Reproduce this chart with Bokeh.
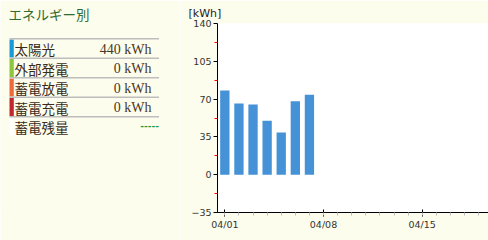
from bokeh.plotting import figure
from bokeh.layouts import row
from bokeh.models import Range1d, FixedTicker, ColumnDataSource
from bokeh.core.properties import value
from bokeh.embed import file_html
from bokeh.resources import INLINE

# ---- data ----
days = [1, 2, 3, 4, 5, 6, 7]
kwh = [78, 66, 65, 50, 39, 68, 74]
x_tick_days = [1, 8, 15]
x_tick_labels = ["04/01", "04/08", "04/15"]
y_ticks = [-35, 0, 35, 70, 105, 140]
y_minor = [-17.5, 17.5, 52.5, 87.5, 122.5]

panel_title = "エネルギー別"
cat_names = ["太陽光", "外部発電", "蓄電放電", "蓄電充電", "蓄電残量"]
cat_values = ["440 kWh", "0 kWh", "0 kWh", "0 kWh", "-----"]
cat_colors = ["#1b9ad8", "#8cc63e", "#ec6a3c", "#c1272d", "#ffffff"]

BG = "#fcfdec"
TXT = "#3a2a1a"
JP = "Noto Sans CJK JP"

FT, FB = 23, 212  # frame top / bottom in page pixels

# ---- left panel ----
lp = figure(width=180, height=240, x_range=Range1d(0, 180), y_range=Range1d(FB, FT),
            output_backend="svg", toolbar_location=None,
            min_border_left=0, min_border_right=0, min_border_top=FT, min_border_bottom=240 - FB,
            title=panel_title)
lp.title.text_font = JP
lp.title.text_font_size = "13.5px"
lp.title.text_font_style = "normal"
lp.title.text_color = "#2f6a2f"
lp.title.align = "left"
lp.title.offset = 8
lp.title.standoff = 0
lp.axis.visible = False
lp.grid.visible = False
lp.outline_line_color = None
lp.background_fill_color = BG
lp.border_fill_color = BG

top0 = 38.3
pitch = 19.5
n = len(cat_names)
tops = [top0 + i * pitch for i in range(n)]
mids = [t + pitch / 2 for t in tops]
lp.quad(left=[9] * n, right=[13.3] * n, top=[t + 0.8 for t in tops], bottom=[t + pitch - 0.8 for t in tops],
        color=cat_colors, line_color=None)
sep_y = tops[:4] + [tops[3] + pitch]
lp.segment(x0=[9] * len(sep_y), x1=[158.5] * len(sep_y), y0=sep_y, y1=sep_y,
           line_color="#bdbdbd", line_width=1.5)
lp.text(x=[14] * n, y=[m + 0.5 for m in mids], text=cat_names, text_font=value(JP), text_font_size="13.5px",
        text_color=TXT, text_baseline="middle")
lp.text(x=[151] * 4, y=[m + 0.5 for m in mids[:4]], text=cat_values[:4], text_font=value("Liberation Serif"),
        text_font_size="14px", text_color="#4a3626", text_align="right", text_baseline="middle")
lp.text(x=[158.5], y=[mids[4] - 1], text=cat_values[4:], text_font=value("DejaVu Sans"),
        text_font_size="9px", text_font_style="bold", text_color="#1f9a3a",
        text_align="right", text_baseline="middle")

# ---- chart ----
p = figure(width=308, height=240, x_range=Range1d(0.48, 19.7), y_range=Range1d(-35, 140),
           output_backend="svg", toolbar_location=None, title="[kWh]",
           min_border_left=37, min_border_right=0, min_border_top=FT, min_border_bottom=240 - FB)
p.title.text_font = "DejaVu Sans"
p.title.text_font_size = "11px"
p.title.text_font_style = "normal"
p.title.text_color = "#222222"
p.title.align = "left"
p.title.offset = -29
p.title.standoff = 7
p.background_fill_color = "#ffffff"
p.border_fill_color = BG
p.outline_line_color = None
p.grid.visible = False

src = ColumnDataSource(dict(x=days, top=kwh))
p.vbar(x="x", top="top", bottom=0, width=0.66, source=src, color="#4592d6", line_color=None)

p.xaxis.ticker = FixedTicker(ticks=x_tick_days, minor_ticks=list(range(1, 20)))
p.xaxis.major_label_overrides = dict(zip(x_tick_days, x_tick_labels))
p.xaxis.axis_line_color = "black"
p.xaxis.major_tick_line_color = "black"
p.xaxis.major_tick_in = 3
p.xaxis.major_tick_out = 4
p.xaxis.minor_tick_line_color = "#bbbbbb"
p.xaxis.minor_tick_in = 0
p.xaxis.minor_tick_out = 3
p.xaxis.major_label_standoff = 2

p.yaxis.ticker = FixedTicker(ticks=y_ticks, minor_ticks=y_minor)
p.yaxis.axis_line_color = "black"
p.yaxis.major_tick_line_color = "black"
p.yaxis.major_tick_in = 0
p.yaxis.major_tick_out = 4
p.yaxis.minor_tick_line_color = "red"
p.yaxis.minor_tick_in = 0
p.yaxis.minor_tick_out = 3
p.yaxis.major_label_standoff = 2

for ax in (p.xaxis, p.yaxis):
    ax.major_label_text_font = "DejaVu Sans"
    ax.major_label_text_font_size = "9.5px"
    ax.major_label_text_color = "#333333"

layout = row(lp, p, spacing=0)
open("out.html", "w").write(file_html(layout, INLINE))
